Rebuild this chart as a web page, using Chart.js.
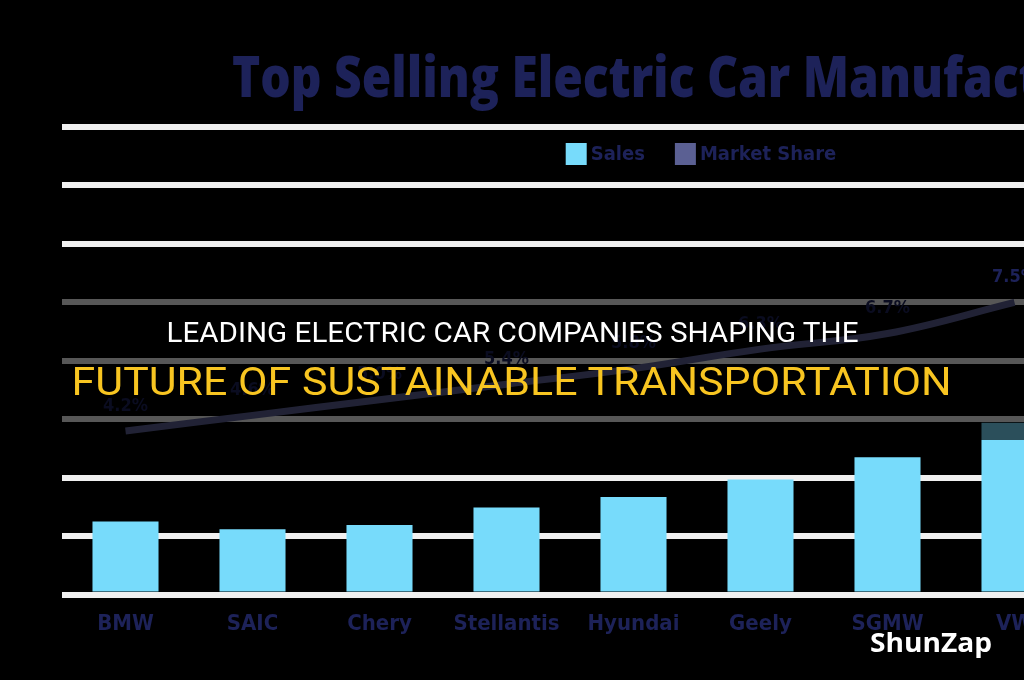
<!DOCTYPE html>
<html>
<head>
<meta charset="utf-8">
<script src="https://cdn.jsdelivr.net/npm/chart.js@4.4.1/dist/chart.umd.min.js"></script>
<style>
html,body{margin:0;padding:0;background:#000;width:1024px;height:680px;overflow:hidden;}
#wrap{position:relative;width:1024px;height:680px;overflow:hidden;background:#000;}
#c{position:absolute;left:0;top:0;}
#title{position:absolute;left:232px;top:47px;color:#1d2259;font-family:"Open Sans","Noto Sans",sans-serif;font-weight:800;font-size:56px;line-height:1;white-space:nowrap;transform-origin:left top;}
#band{position:absolute;left:0;top:295px;width:1024px;height:145px;background:rgba(0,0,0,0.64);}
.ov{position:absolute;left:0;width:1024px;text-align:center;white-space:nowrap;line-height:1;}
.ov span{display:inline-block;transform-origin:center top;}
#l1{top:319px;color:#ffffff;font-size:28px;font-family:"Roboto","Liberation Sans",sans-serif;}
#l2{top:363px;color:#f8c521;font-size:38px;font-family:"Roboto","Liberation Sans",sans-serif;}
#brand{position:absolute;left:870px;top:628px;color:#ffffff;font-weight:bold;font-size:27px;line-height:1;font-family:"Open Sans","Noto Sans",sans-serif;white-space:nowrap;transform-origin:left top;}
</style>
</head>
<body>
<div id="wrap">
  <canvas id="c" width="1376" height="680"></canvas>
  <div id="title" data-w="940"></div>
  <div id="band"></div>
  <div class="ov" id="l1"><span data-w="692">LEADING ELECTRIC CAR COMPANIES SHAPING THE</span></div>
  <div class="ov" id="l2"><span data-w="880">FUTURE OF SUSTAINABLE TRANSPORTATION</span></div>
  <div id="brand" data-w="122">ShunZap</div>
</div>
<script>
// ---- data ----
const categories = ['BMW', 'SAIC', 'Chery', 'Stellantis', 'Hyundai', 'Geely', 'SGMW', 'VW'];
const salesValues = [125, 112, 119, 149, 167, 197, 235, 294];          // thousand units (estimated)
const marketShareValues = [4.2, 4.6, 5.0, 5.4, 5.8, 6.3, 6.7, 7.5];    // percent (estimated)
const salesAxisTicks = [0, 100, 200, 300, 400, 500, 600, 700, 800];
const chartTitle = 'Top Selling Electric Car Manufacturers';
const seriesNames = ['Sales', 'Market Share'];

const NAVY = '#1d2259';
const BAR_BLUE = '#77dbfb';
const LINE_SLATE = '#5b6093';
const NARROW = '"DejaVu Sans Condensed","Liberation Sans",sans-serif';

document.getElementById('title').textContent = chartTitle;

const lineLabelPlugin = {
  id: 'lineLabels',
  afterDatasetsDraw(chart) {
    const meta = chart.getDatasetMeta(1);
    const ctx = chart.ctx;
    ctx.save();
    ctx.font = 'bold 18px ' + NARROW;
    ctx.fillStyle = NAVY;
    ctx.textAlign = 'center';
    ctx.textBaseline = 'bottom';
    meta.data.forEach((pt, i) => {
      ctx.fillText(chart.data.datasets[1].data[i].toFixed(1) + '%', pt.x, pt.y - 16);
    });
    ctx.restore();
  }
};

const innerLegendPlugin = {
  id: 'innerLegend',
  afterDraw(chart) {
    const ctx = chart.ctx;
    const ds = chart.data.datasets;
    ctx.save();
    ctx.font = 'bold 20px ' + NARROW;
    const box = 21, gapText = 4, gapItem = 30;
    const widths = ds.map(d => box + gapText + ctx.measureText(d.label).width);
    const total = widths.reduce((a, b) => a + b, 0) + gapItem * (ds.length - 1);
    let x = chart.width / 2 - total / 2 + 13;
    const yc = chart.chartArea.top + 27;
    ds.forEach((d, i) => {
      ctx.fillStyle = d.legendColor;
      ctx.fillRect(x, yc - 11, box, 22);
      ctx.fillStyle = NAVY;
      ctx.textAlign = 'left';
      ctx.textBaseline = 'middle';
      ctx.fillText(d.label, x + box + gapText, yc + 1);
      x += widths[i] + gapItem;
    });
    ctx.restore();
  }
};

new Chart(document.getElementById('c'), {
  type: 'bar',
  data: {
    labels: categories,
    datasets: [
      {
        type: 'bar',
        label: seriesNames[0],
        data: salesValues,
        backgroundColor: BAR_BLUE,
        legendColor: BAR_BLUE,
        borderWidth: 0,
        categoryPercentage: 1,
        barPercentage: 0.52,
        yAxisID: 'y',
        order: 2
      },
      {
        type: 'line',
        label: seriesNames[1],
        data: marketShareValues,
        borderColor: LINE_SLATE,
        legendColor: LINE_SLATE,
        borderWidth: 7,
        pointRadius: 0,
        tension: 0.4,
        fill: false,
        yAxisID: 'y1',
        order: 1
      }
    ]
  },
  options: {
    responsive: false,
    animation: false,
    devicePixelRatio: 1,
    layout: { padding: { left: 62, right: 298, top: 127, bottom: 35 } },
    plugins: {
      legend: { display: false },
      tooltip: { enabled: false },
      title: { display: false }
    },
    scales: {
      x: {
        grid: { display: false },
        border: { display: false },
        ticks: { color: NAVY, font: { family: NARROW, size: 22, weight: 'bold' }, padding: 8, maxRotation: 0 }
      },
      y: {
        min: salesAxisTicks[0],
        max: salesAxisTicks[salesAxisTicks.length - 1],
        afterBuildTicks: (axis) => { axis.ticks = salesAxisTicks.map(v => ({ value: v })); },
        ticks: { display: false },
        grid: { color: '#f0f0f0', lineWidth: 6, drawTicks: false },
        border: { display: false }
      },
      y1: {
        display: false,
        position: 'right',
        min: 0,
        max: 12
      }
    }
  },
  plugins: [lineLabelPlugin, innerLegendPlugin]
});

// fit overlay text widths
document.querySelectorAll('[data-w]').forEach(el => {
  const w = el.getBoundingClientRect().width;
  const target = parseFloat(el.getAttribute('data-w'));
  if (w > 0) el.style.transform = 'scaleX(' + (target / w) + ')';
});
</script>
</body>
</html>
